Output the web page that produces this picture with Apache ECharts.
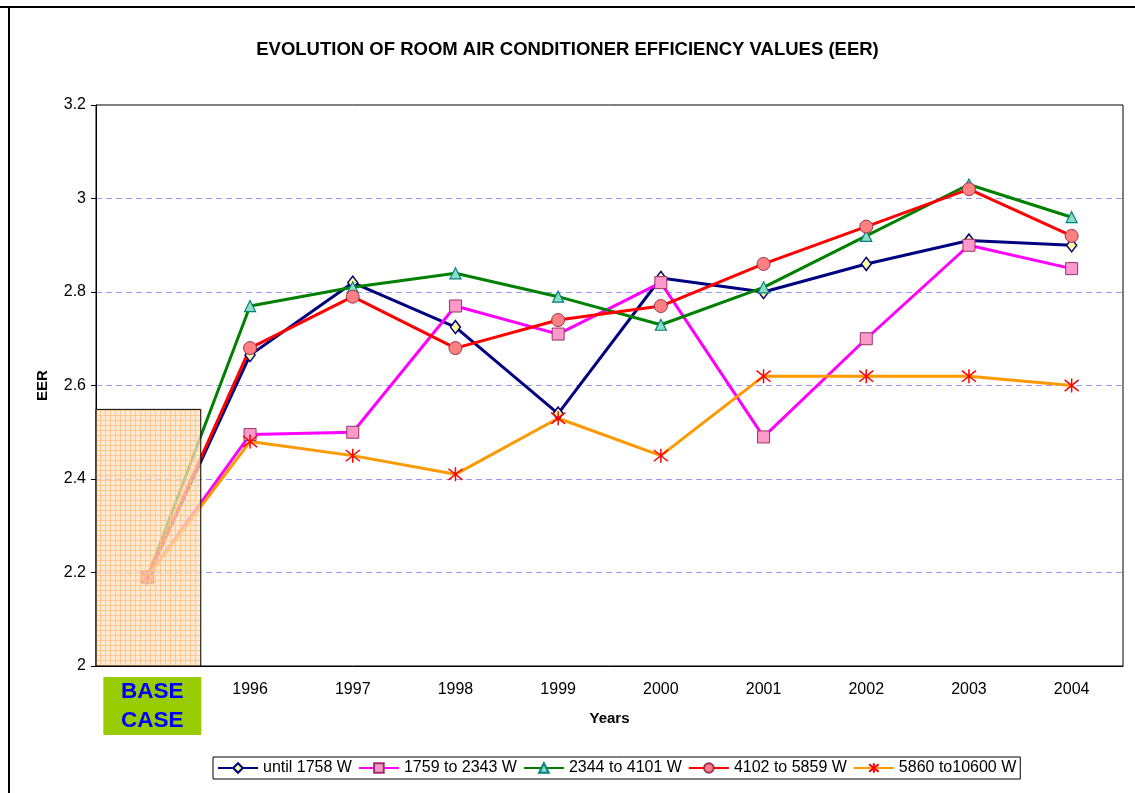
<!DOCTYPE html>
<html lang="en">
<head>
    <meta charset="UTF-8">
    <title>EER evolution</title>
    <style>
        html, body { margin: 0; padding: 0; background: #fff; }
        #chart { width: 1135px; height: 793px; }
    </style>
</head>
<body>
<div id="chart"></div>
<script src="https://cdn.jsdelivr.net/npm/echarts@6/dist/echarts.min.js"></script>
<script>
    // categories on the x axis
    var years = ['BASE CASE', '1996', '1997', '1998', '1999', '2000', '2001', '2002', '2003', '2004'];
    var seriesNames = ['until 1758 W', '1759 to 2343 W', '2344 to 4101 W', '4102 to 5859 W', '5860 to10600 W'];
    // EER values
    var until1758 = [2.19, 2.665, 2.82, 2.725, 2.54, 2.83, 2.80, 2.86, 2.91, 2.90];
    var to2343 = [2.19, 2.495, 2.50, 2.77, 2.71, 2.82, 2.49, 2.70, 2.90, 2.85];
    var to4101 = [2.19, 2.77, 2.81, 2.84, 2.79, 2.73, 2.81, 2.92, 3.03, 2.96];
    var to5859 = [2.19, 2.68, 2.79, 2.68, 2.74, 2.77, 2.86, 2.94, 3.02, 2.92];
    var to10600 = [2.19, 2.48, 2.45, 2.41, 2.53, 2.45, 2.62, 2.62, 2.62, 2.60];
    // height of the shaded "base case" box
    var baseBox = [2.55, null, null, null, null, null, null, null, null, null];

    // small peach grid pattern for the base case box
    var pat = document.createElement('canvas');
    pat.width = 5; pat.height = 5;
    var pc = pat.getContext('2d');
    pc.fillStyle = 'rgba(255,224,190,0.72)';
    pc.fillRect(0, 0, 5, 5);
    pc.fillStyle = 'rgba(250,190,130,0.75)';
    pc.fillRect(0, 0, 5, 1);
    pc.fillRect(0, 0, 1, 5);

    var starPath = 'path://M2,2L18,18M2,18L18,2M10,0L10,20';

    function lineSeries(name, data, lineColor, symbol, size, fill, border, bw) {
        return {
            name: name,
            type: 'line',
            data: data,
            symbol: symbol,
            symbolSize: size,
            showAllSymbol: true,
            lineStyle: { color: lineColor, width: 3 },
            itemStyle: { color: fill, borderColor: border, borderWidth: bw },
            emphasis: { disabled: true },
            z: 2
        };
    }

    var chart = echarts.init(document.getElementById('chart'));
    var option = {
        animation: false,
        textStyle: { fontFamily: 'Liberation Sans, Arial, sans-serif' },
        title: {
            text: 'EVOLUTION OF ROOM AIR CONDITIONER EFFICIENCY VALUES (EER)',
            left: 'center',
            top: 35,
            textStyle: { fontSize: 18.5, fontWeight: 'bold', color: '#000' }
        },
        graphic: [
            { type: 'line', shape: { x1: 0, y1: 7, x2: 1135, y2: 7 }, style: { stroke: '#000', lineWidth: 2 } },
            { type: 'line', shape: { x1: 9, y1: 7, x2: 9, y2: 793 }, style: { stroke: '#000', lineWidth: 2 } }
        ],
        legend: {
            data: seriesNames,
            left: 213,
            top: 757,
            itemWidth: 40,
            itemHeight: 12,
            itemGap: 6,
            padding: [3, 4],
            borderColor: '#000',
            borderWidth: 1,
            textStyle: { fontSize: 16, color: '#000' }
        },
        grid: {
            left: 96, right: 12, top: 105, bottom: 127,
            show: true, borderColor: '#000', borderWidth: 1
        },
        xAxis: {
            type: 'category',
            data: years,
            name: 'Years',
            nameLocation: 'middle',
            nameGap: 45,
            nameMoveOverlap: false,
            nameTextStyle: { fontSize: 15, fontWeight: 'bold', color: '#000' },
            axisLine: { lineStyle: { color: '#000', width: 1 } },
            axisTick: { length: 5, lineStyle: { color: '#000' } },
            axisLabel: {
                margin: 11,
                interval: 0,
                formatter: function (v) {
                    if (v === 'BASE CASE') return '{gap|}{base|BASE}\n{gap|}{base|CASE}';
                    return '{yr|' + v + '}';
                },
                rich: {
                    yr: { fontSize: 16, color: '#000', lineHeight: 18, padding: [8, 0, 0, 0] },
                    gap: { width: 10, height: 29, lineHeight: 29 },
                    base: {
                        fontSize: 22.5, fontWeight: 'bold', color: '#0000ff',
                        backgroundColor: '#99cc00', width: 98, height: 29,
                        align: 'center', lineHeight: 29
                    }
                }
            }
        },
        yAxis: {
            type: 'value',
            min: 2,
            max: 3.2,
            interval: 0.2,
            name: 'EER',
            nameLocation: 'middle',
            nameGap: 46,
            nameMoveOverlap: false,
            nameTextStyle: { fontSize: 15, fontWeight: 'bold', color: '#000' },
            axisLine: { show: true, lineStyle: { color: '#000', width: 1 } },
            axisTick: { show: true, length: 5, lineStyle: { color: '#000' } },
            axisLabel: { fontSize: 16, color: '#000', margin: 10 },
            splitLine: {
                lineStyle: {
                    type: [6, 4],
                    color: ['transparent', '#9999ff', '#9999ff', '#9999ff', '#9999ff', '#9999ff', 'transparent']
                }
            }
        },
        series: [
            lineSeries(seriesNames[0], until1758, '#000080', 'diamond', [10, 13], '#ffff99', '#000080', 1.5),
            lineSeries(seriesNames[1], to2343, '#ff00ff', 'rect', 12, '#ff99cc', '#993366', 1),
            lineSeries(seriesNames[2], to4101, '#008000', 'triangle', 11, '#8fdcc4', '#008080', 1.2),
            lineSeries(seriesNames[3], to5859, '#ff0000', 'circle', 13, '#ff8080', '#993355', 1),
            lineSeries(seriesNames[4], to10600, '#ff9900', starPath, 14, '#ff0000', '#ff0000', 1.5),
            {
                name: 'base',
                type: 'bar',
                data: baseBox,
                barWidth: '105%',
                z: 5,
                silent: true,
                itemStyle: {
                    color: { image: pat, repeat: 'repeat' },
                    borderColor: '#000',
                    borderWidth: 1
                }
            }
        ]
    };
    chart.setOption(option);
</script>
</body>
</html>
